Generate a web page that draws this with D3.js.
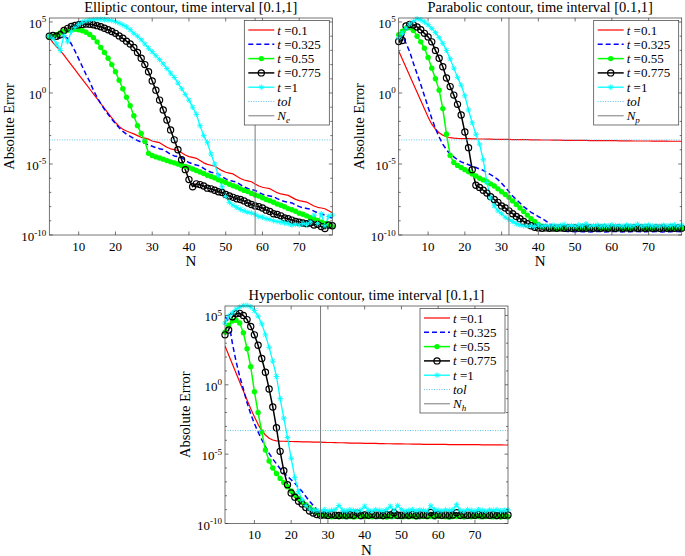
<!DOCTYPE html>
<html><head><meta charset="utf-8">
<script src="https://cdn.jsdelivr.net/npm/d3@7/dist/d3.min.js"></script>
<style>
body{margin:0;background:#fff}
svg{display:block}
text{font-family:"Liberation Serif","Times New Roman",serif;fill:#000}
</style>
</head><body>
<svg id="chart" width="685" height="556"></svg>
<script>
// ---------------- DATA (log10 of absolute error, N = 2..79) ----------------
const N = d3.range(2, 80);
const seriesTimes = ["0.1", "0.325", "0.55", "0.775", "1"];
const xTicks = [10, 20, 30, 40, 50, 60, 70];
const yTickExps = [-10, -5, 0, 5];
const tolValue = 5e-4;
const nLines = [58, 32, 28];
const nSubs = ["e", "p", "h"];
const titles = [
  "Elliptic contour, time interval [0.1,1]",
  "Parabolic contour, time interval [0.1,1]",
  "Hyperbolic contour, time interval [0.1,1]"
];

const ellipticT01 = [3.9,3.55,3.25,3.0,2.66,2.32,1.98,1.64,1.3,0.96,
0.62,0.28,-0.06,-0.4,-0.74,-1.08,-1.42,-1.76,-2.08,-2.35,
-2.55,-2.68,-2.78,-2.88,-3.0,-3.12,-3.18,-3.25,-3.38,-3.44,
-3.5,-3.66,-3.82,-3.93,-3.99,-4.05,-4.21,-4.37,-4.48,-4.54,
-4.6,-4.76,-4.92,-5.03,-5.09,-5.15,-5.31,-5.47,-5.58,-5.64,
-5.7,-5.86,-6.02,-6.13,-6.19,-6.25,-6.41,-6.55,-6.64,-6.69,
-6.74,-6.88,-7.02,-7.11,-7.16,-7.21,-7.35,-7.49,-7.58,-7.63,
-7.68,-7.82,-7.96,-8.05,-8.1,-8.15,-8.29,-8.43];
const ellipticT0325 = [4.0,3.9,3.85,3.9,4.0,3.85,3.45,2.95,2.4,1.85,
1.3,0.8,0.2,-0.3,-0.75,-1.15,-1.5,-1.85,-2.15,-2.45,
-2.7,-2.9,-3.05,-3.2,-3.35,-3.45,-3.55,-3.65,-3.75,-3.85,
-3.92,-3.98,-4.15,-4.32,-4.43,-4.49,-4.56,-4.73,-4.9,-5.0,
-5.07,-5.13,-5.3,-5.47,-5.58,-5.64,-5.71,-5.88,-6.05,-6.15,
-6.22,-6.28,-6.45,-6.62,-6.73,-6.79,-6.86,-7.0,-7.12,-7.2,
-7.25,-7.3,-7.44,-7.56,-7.64,-7.69,-7.74,-7.88,-8.0,-8.08,
-8.13,-8.18,-8.32,-8.44,-8.52,-8.6,-8.7,-8.83];
const ellipticT055 = [3.95,4.0,4.1,4.25,4.35,4.42,4.47,4.48,4.45,4.38,
4.28,4.12,3.9,3.6,3.2,2.85,2.45,2.0,1.5,0.9,
0.3,-0.3,-0.9,-1.6,-2.3,-2.85,-3.4,-4.25,-4.4,-4.5,
-4.58,-4.66,-4.76,-4.85,-4.92,-5.0,-5.1,-5.18,-5.26,-5.35,
-5.46,-5.56,-5.67,-5.79,-5.88,-5.98,-6.11,-6.2,-6.3,-6.43,
-6.53,-6.62,-6.75,-6.86,-6.94,-7.07,-7.18,-7.26,-7.38,-7.5,
-7.58,-7.69,-7.82,-7.9,-8.01,-8.14,-8.22,-8.33,-8.46,-8.54,
-8.65,-8.78,-8.86,-8.97,-9.1,-9.18,-9.29,-9.42];
const ellipticT0775 = [4.0,4.05,4.0,4.1,4.4,4.55,4.68,4.76,4.8,4.83,
4.85,4.84,4.8,4.74,4.66,4.56,4.45,4.33,4.2,4.02,
3.85,3.65,3.45,3.2,2.85,2.45,2.0,1.5,0.85,0.2,
-0.5,-1.2,-1.9,-2.6,-3.3,-4.0,-4.7,-5.4,-6.1,-6.6,
-6.4,-6.45,-6.55,-6.7,-6.75,-6.85,-6.95,-7.0,-7.15,-7.25,
-7.35,-7.45,-7.5,-7.6,-7.75,-7.85,-7.95,-8.0,-8.1,-8.25,
-8.35,-8.5,-8.55,-8.65,-8.8,-8.85,-8.95,-9.05,-9.1,-9.15,
-9.2,-9.15,-9.3,-9.25,-9.4,-9.55,-9.3,-9.35];
const ellipticT1 = [4.0,3.85,3.45,3.0,4.05,3.6,4.35,4.6,4.82,4.98,
5.08,5.14,5.17,5.18,5.18,5.17,5.15,5.1,5.02,4.92,
4.8,4.65,4.45,4.2,4.0,3.75,3.45,3.15,2.9,2.62,
2.35,2.05,1.72,1.4,1.1,0.7,0.3,-0.1,-0.5,-1.0,
-1.5,-2.3,-3.0,-3.5,-4.3,-5.0,-5.8,-6.6,-7.3,-7.7,
-7.9,-8.05,-8.2,-8.3,-8.4,-8.45,-8.55,-8.7,-8.75,-8.85,
-8.9,-9.0,-9.05,-9.1,-9.15,-9.2,-9.3,-9.25,-9.3,-9.2,
-9.25,-9.1,-8.6,-9.2,-8.5,-9.35,-8.7,-8.6];

const parabolicT01 = [2.95,2.37,1.79,1.21,0.63,0.05,-0.53,-1.11,-1.69,-2.2,
-2.55,-2.8,-2.97,-3.08,-3.15,-3.18,-3.2,-3.21,-3.22,-3.22,
-3.23,-3.23,-3.24,-3.24,-3.25,-3.25,-3.26,-3.26,-3.27,-3.27,
-3.27,-3.28,-3.28,-3.29,-3.29,-3.29,-3.3,-3.3,-3.3,-3.31,
-3.31,-3.31,-3.32,-3.32,-3.32,-3.33,-3.33,-3.33,-3.34,-3.34,
-3.34,-3.34,-3.35,-3.35,-3.35,-3.35,-3.36,-3.36,-3.36,-3.36,
-3.37,-3.37,-3.37,-3.37,-3.38,-3.38,-3.38,-3.38,-3.38,-3.39,
-3.39,-3.39,-3.39,-3.39,-3.4,-3.4,-3.4,-3.4];
const parabolicT0325 = [4.2,4.0,3.5,2.9,2.1,1.35,0.6,-0.2,-1.0,-1.8,
-2.5,-3.1,-3.6,-4.0,-4.3,-4.5,-4.7,-4.85,-4.95,-5.05,
-5.15,-5.25,-5.35,-5.45,-5.6,-5.75,-5.9,-6.1,-6.35,-6.65,
-6.95,-7.25,-7.5,-7.75,-8.0,-8.2,-8.4,-8.55,-8.7,-8.85,
-9.0,-9.2,-9.4,-9.55,-9.65,-9.72,-9.75,-9.76,-9.77,-9.75,
-9.77,-9.76,-9.78,-9.77,-9.75,-9.76,-9.78,-9.77,-9.76,-9.75,
-9.77,-9.78,-9.76,-9.77,-9.75,-9.76,-9.78,-9.77,-9.76,-9.77,
-9.75,-9.77,-9.78,-9.76,-9.77,-9.75,-9.76,-9.78];
const parabolicT055 = [4.1,4.35,4.55,4.6,4.4,4.0,3.6,3.15,2.5,1.75,
1.0,0.2,-1.1,-2.9,-4.4,-4.9,-5.1,-5.25,-5.4,-5.55,
-5.7,-5.85,-6.0,-6.12,-6.25,-6.4,-6.55,-6.75,-6.95,-7.15,
-7.35,-7.6,-7.85,-8.1,-8.35,-8.6,-8.85,-9.05,-9.25,-9.4,
-9.5,-9.55,-9.53,-9.56,-9.54,-9.55,-9.53,-9.56,-9.54,-9.55,
-9.53,-9.56,-9.54,-9.55,-9.53,-9.56,-9.54,-9.55,-9.53,-9.56,
-9.54,-9.55,-9.53,-9.56,-9.54,-9.55,-9.53,-9.56,-9.54,-9.55,
-9.53,-9.56,-9.54,-9.55,-9.53,-9.56,-9.54,-9.55];
const parabolicT0775 = [3.62,3.7,4.72,4.82,4.79,4.65,4.45,4.2,3.95,3.6,
3.0,2.45,1.85,1.05,0.45,-0.15,-0.8,-1.55,-2.75,-3.85,
-5.4,-6.5,-6.65,-6.85,-7.05,-7.3,-7.5,-7.7,-7.95,-8.1,
-8.3,-8.5,-8.7,-8.85,-9.05,-9.2,-9.35,-9.45,-9.5,-9.52,
-9.5,-9.53,-9.51,-9.52,-9.5,-9.53,-9.51,-9.52,-9.5,-9.53,
-9.51,-9.52,-9.5,-9.53,-9.51,-9.52,-9.5,-9.53,-9.51,-9.52,
-9.5,-9.53,-9.51,-9.52,-9.5,-9.53,-9.51,-9.52,-9.5,-9.53,
-9.51,-9.52,-9.5,-9.53,-9.51,-9.52,-9.5,-9.53];
const parabolicT1 = [3.9,4.2,4.55,4.85,5.05,5.22,5.15,5.0,4.8,4.55,
4.25,3.9,3.5,3.0,2.4,1.75,1.1,0.55,-0.2,-1.2,
-2.1,-2.9,-3.6,-4.7,-6.3,-7.4,-7.95,-8.3,-8.5,-8.75,
-8.9,-9.05,-9.2,-9.3,-9.35,-9.38,-9.35,-9.4,-9.3,-9.38,
-9.33,-9.36,-9.3,-9.38,-9.34,-9.25,-9.36,-9.33,-9.38,-9.3,
-9.35,-9.22,-9.37,-9.33,-9.3,-9.38,-9.34,-9.36,-9.28,-9.35,
-9.33,-9.38,-9.3,-9.36,-9.34,-9.25,-9.37,-9.33,-9.3,-9.36,
-9.34,-9.38,-9.3,-9.35,-9.33,-9.28,-9.36,-9.3];

const hyperbolicT01 = [2.8,2.15,1.5,0.85,0.2,-0.45,-1.1,-1.72,-2.3,-2.85,
-3.3,-3.62,-3.85,-3.98,-4.04,-4.06,-4.07,-4.08,-4.09,-4.1,
-4.1,-4.11,-4.12,-4.12,-4.13,-4.14,-4.14,-4.15,-4.16,-4.16,
-4.17,-4.18,-4.18,-4.19,-4.2,-4.2,-4.21,-4.21,-4.22,-4.22,
-4.23,-4.23,-4.24,-4.24,-4.25,-4.25,-4.26,-4.26,-4.26,-4.27,
-4.27,-4.28,-4.28,-4.28,-4.29,-4.29,-4.29,-4.3,-4.3,-4.3,
-4.3,-4.31,-4.31,-4.31,-4.31,-4.32,-4.32,-4.32,-4.32,-4.32,
-4.33,-4.33,-4.33,-4.33,-4.33,-4.33,-4.34,-4.34];
const hyperbolicT0325 = [4.9,4.6,3.0,1.7,0.6,-0.3,-1.3,-2.1,-2.8,-3.4,
-3.95,-4.45,-4.95,-5.35,-5.7,-6.05,-6.35,-6.6,-6.85,-7.1,
-7.4,-7.7,-8.05,-8.4,-8.7,-9.0,-9.25,-9.45,-9.55,-9.6,
-9.62,-9.63,-9.62,-9.64,-9.63,-9.62,-9.63,-9.64,-9.62,-9.63,
-9.62,-9.64,-9.63,-9.62,-9.63,-9.64,-9.62,-9.63,-9.62,-9.64,
-9.63,-9.62,-9.63,-9.64,-9.62,-9.63,-9.62,-9.64,-9.63,-9.62,
-9.63,-9.64,-9.62,-9.63,-9.62,-9.64,-9.63,-9.62,-9.63,-9.64,
-9.62,-9.63,-9.62,-9.64,-9.63,-9.62,-9.63,-9.64];
const hyperbolicT055 = [3.8,4.3,4.6,4.65,4.45,3.75,2.6,1.3,-0.5,-2.0,
-3.4,-4.7,-5.5,-6.0,-6.4,-6.75,-7.05,-7.35,-7.65,-7.95,
-8.2,-8.45,-8.65,-8.85,-9.05,-9.2,-9.35,-9.45,-9.5,-9.52,
-9.5,-9.52,-9.49,-9.51,-9.5,-9.53,-9.5,-9.48,-9.51,-9.5,
-9.52,-9.49,-9.5,-9.51,-9.53,-9.5,-9.48,-9.5,-9.52,-9.49,
-9.51,-9.5,-9.53,-9.5,-9.49,-9.51,-9.5,-9.52,-9.48,-9.5,
-9.51,-9.53,-9.5,-9.49,-9.5,-9.52,-9.5,-9.51,-9.49,-9.5,
-9.52,-9.5,-9.49,-9.51,-9.5,-9.53,-9.5,-9.51];
const hyperbolicT0775 = [3.6,3.95,4.9,5.12,5.15,5.0,4.7,4.2,3.6,2.85,
1.9,0.9,-0.3,-1.6,-3.1,-4.8,-6.2,-7.2,-7.8,-8.1,
-8.4,-8.6,-8.85,-9.1,-9.25,-9.35,-9.4,-9.38,-9.42,-9.36,
-9.4,-9.42,-9.38,-9.41,-9.37,-9.4,-9.25,-9.42,-9.38,-9.4,
-9.36,-9.41,-9.39,-9.42,-9.37,-9.38,-9.22,-9.4,-9.41,-9.38,
-9.4,-9.36,-9.42,-9.39,-9.38,-9.4,-9.2,-9.41,-9.37,-9.4,
-9.38,-9.41,-9.39,-9.22,-9.4,-9.37,-9.41,-9.38,-9.4,-9.36,
-9.41,-9.38,-9.4,-9.37,-9.42,-9.39,-9.4,-9.38];
const hyperbolicT1 = [4.45,4.95,5.2,5.45,5.6,5.72,5.72,5.62,5.35,4.95,
4.4,3.6,2.7,1.7,0.6,-1.0,-2.4,-3.8,-5.3,-6.7,
-7.7,-8.3,-8.7,-8.95,-9.05,-9.05,-9.1,-9.0,-9.1,-9.05,
-9.0,-8.7,-9.05,-9.1,-9.0,-9.05,-9.1,-9.02,-8.75,-9.05,
-9.1,-9.0,-9.05,-9.08,-9.0,-8.75,-9.05,-8.7,-9.0,-9.1,
-9.05,-9.0,-9.08,-9.02,-9.05,-9.1,-8.72,-9.0,-9.05,-9.08,
-9.02,-9.05,-9.0,-8.65,-9.05,-9.1,-9.0,-9.05,-9.08,-9.0,
-9.05,-9.1,-9.02,-9.05,-9.0,-9.08,-9.05,-9.02];

const panelData = [
  [ellipticT01, ellipticT0325, ellipticT055, ellipticT0775, ellipticT1],
  [parabolicT01, parabolicT0325, parabolicT055, parabolicT0775, parabolicT1],
  [hyperbolicT01, hyperbolicT0325, hyperbolicT055, hyperbolicT0775, hyperbolicT1]
];

// ---------------- LAYOUT & STYLE ----------------
const layouts = [
  {left: 49.3, right: 332.3, top: 18, bottom: 235, yMaxExp: 5.28},
  {left: 398.7, right: 681.7, top: 18, bottom: 235, yMaxExp: 5.28},
  {left: 225, right: 508, top: 306, bottom: 523.5, yMaxExp: 5.68}
];
const styles = [
  {color: "#ff0000", width: 1.2, dash: null, marker: null},
  {color: "#0000ff", width: 1.5, dash: "5,3", marker: null},
  {color: "#00ff00", width: 1.5, dash: null, marker: "dot"},
  {color: "#000000", width: 1.5, dash: null, marker: "circle"},
  {color: "#00ffff", width: 1.3, dash: null, marker: "star"}
];
const axisColor = "#3a3a3a";
const tolColor = "#4DBEEE";
const nLineColor = "#7a7a7a";

const svg = d3.select("#chart");

function drawMarker(g, type, color, x, y) {
  if (type === "dot") {
    g.append("circle").attr("cx", x).attr("cy", y).attr("r", 2.7).attr("fill", color);
  } else if (type === "circle") {
    g.append("circle").attr("cx", x).attr("cy", y).attr("r", 3.1)
      .attr("fill", "none").attr("stroke", color).attr("stroke-width", 1.2);
  } else if (type === "star") {
    const s = 2.8, d = 2.0;
    g.append("path")
      .attr("d", `M${x - s},${y}H${x + s}M${x},${y - s}V${y + s}M${x - d},${y - d}L${x + d},${y + d}M${x - d},${y + d}L${x + d},${y - d}`)
      .attr("stroke", color).attr("stroke-width", 0.9).attr("fill", "none");
  }
}

layouts.forEach((L, pi) => {
  const x = d3.scaleLinear().domain([2, 79]).range([L.left, L.right]);
  const y = d3.scaleLog().domain([1e-10, Math.pow(10, L.yMaxExp)]).range([L.bottom, L.top]);
  const g = svg.append("g");
  const clipId = "clip" + pi;
  svg.append("defs").append("clipPath").attr("id", clipId)
    .append("rect").attr("x", L.left).attr("y", L.top)
    .attr("width", L.right - L.left).attr("height", L.bottom - L.top);

  g.append("rect").attr("x", L.left).attr("y", L.top)
    .attr("width", L.right - L.left).attr("height", L.bottom - L.top).attr("fill", "#fff");

  const plotG = g.append("g").attr("clip-path", `url(#${clipId})`);
  const markG = g.append("g");

  const line = d3.line().x((d, i) => x(N[i])).y(d => y(Math.pow(10, d)));

  panelData[pi].forEach((vals, si) => {
    const st = styles[si];
    plotG.append("path").datum(vals).attr("d", line)
      .attr("fill", "none").attr("stroke", st.color).attr("stroke-width", st.width)
      .attr("stroke-dasharray", st.dash).attr("stroke-linejoin", "round");
    if (st.marker) {
      vals.forEach((v, i) => drawMarker(markG, st.marker, st.color, x(N[i]), y(Math.pow(10, v))));
    }
  });

  g.append("line").attr("x1", L.left).attr("x2", L.right)
    .attr("y1", y(tolValue)).attr("y2", y(tolValue))
    .attr("stroke", tolColor).attr("stroke-width", 0.9).attr("stroke-dasharray", "1,1.5");
  g.append("line").attr("x1", x(nLines[pi])).attr("x2", x(nLines[pi]))
    .attr("y1", L.top).attr("y2", L.bottom)
    .attr("stroke", nLineColor).attr("stroke-width", 1);

  g.append("rect").attr("x", L.left).attr("y", L.top)
    .attr("width", L.right - L.left).attr("height", L.bottom - L.top)
    .attr("fill", "none").attr("stroke", axisColor).attr("stroke-width", 0.7);

  xTicks.forEach(t => {
    const xx = x(t);
    g.append("line").attr("x1", xx).attr("x2", xx).attr("y1", L.bottom).attr("y2", L.bottom - 3.5)
      .attr("stroke", axisColor).attr("stroke-width", 0.7);
    g.append("line").attr("x1", xx).attr("x2", xx).attr("y1", L.top).attr("y2", L.top + 3.5)
      .attr("stroke", axisColor).attr("stroke-width", 0.7);
    g.append("text").attr("x", xx).attr("y", L.bottom + 15.5).attr("text-anchor", "middle")
      .attr("font-size", 13).text(t);
  });
  d3.range(-10, Math.floor(L.yMaxExp) + 1).forEach(e => {
    const yy = y(Math.pow(10, e));
    const major = yTickExps.includes(e);
    const len = major ? 3.5 : 2;
    g.append("line").attr("x1", L.left).attr("x2", L.left + len).attr("y1", yy).attr("y2", yy)
      .attr("stroke", axisColor).attr("stroke-width", 0.7);
    g.append("line").attr("x1", L.right).attr("x2", L.right - len).attr("y1", yy).attr("y2", yy)
      .attr("stroke", axisColor).attr("stroke-width", 0.7);
  });
  yTickExps.forEach(e => {
    const yy = y(Math.pow(10, e));
    const t = g.append("text").attr("x", L.left - 3).attr("y", yy + 6)
      .attr("text-anchor", "end").attr("font-size", 13);
    t.append("tspan").text("10");
    t.append("tspan").attr("font-size", 9).attr("dy", -5.5).text(e === 0 ? "0" : (e < 0 ? "-" + (-e) : e));
  });

  g.append("text").attr("x", (L.left + L.right) / 2).attr("y", L.top - 6.5)
    .attr("text-anchor", "middle").attr("font-size", 14.5).text(titles[pi]);
  g.append("text").attr("transform", `translate(${L.left - 35},${(L.top + L.bottom) / 2}) rotate(-90)`)
    .attr("text-anchor", "middle").attr("font-size", 14.5).text("Absolute Error");
  g.append("text").attr("x", (L.left + L.right) / 2).attr("y", L.bottom + 31)
    .attr("text-anchor", "middle").attr("font-size", 15).text("N");

  const lw = 85, lh = 104.5;
  const lx = L.right - 3 - lw, ly = L.top + 2.5;
  const lg = g.append("g");
  lg.append("rect").attr("x", lx).attr("y", ly).attr("width", lw).attr("height", lh)
    .attr("fill", "#fff").attr("stroke", axisColor).attr("stroke-width", 0.7);
  const rows = seriesTimes.length + 2;
  for (let r = 0; r < rows; r++) {
    const yy = ly + 9.5 + r * 14.3;
    const x1 = lx + 4, x2 = lx + 30;
    let stroke, sw, dash = null;
    if (r < seriesTimes.length) { stroke = styles[r].color; sw = styles[r].width; dash = styles[r].dash; }
    else if (r === seriesTimes.length) { stroke = tolColor; sw = 0.9; dash = "1,1.5"; }
    else { stroke = nLineColor; sw = 1; }
    lg.append("line").attr("x1", x1).attr("x2", x2).attr("y1", yy).attr("y2", yy)
      .attr("stroke", stroke).attr("stroke-width", sw).attr("stroke-dasharray", dash);
    if (r < seriesTimes.length && styles[r].marker) drawMarker(lg, styles[r].marker, styles[r].color, (x1 + x2) / 2, yy);
    const tx = lg.append("text").attr("x", x2 + 3).attr("y", yy + 4.5).attr("font-size", 13);
    if (r < seriesTimes.length) {
      tx.append("tspan").attr("font-style", "italic").text("t");
      tx.append("tspan").text(" =" + seriesTimes[r]);
    } else if (r === seriesTimes.length) {
      tx.append("tspan").attr("font-style", "italic").text("tol");
    } else {
      tx.append("tspan").attr("font-style", "italic").text("N");
      tx.append("tspan").attr("font-style", "italic").attr("font-size", 9).attr("dy", 3).text(nSubs[pi]);
    }
  }
});
</script>
</body></html>
